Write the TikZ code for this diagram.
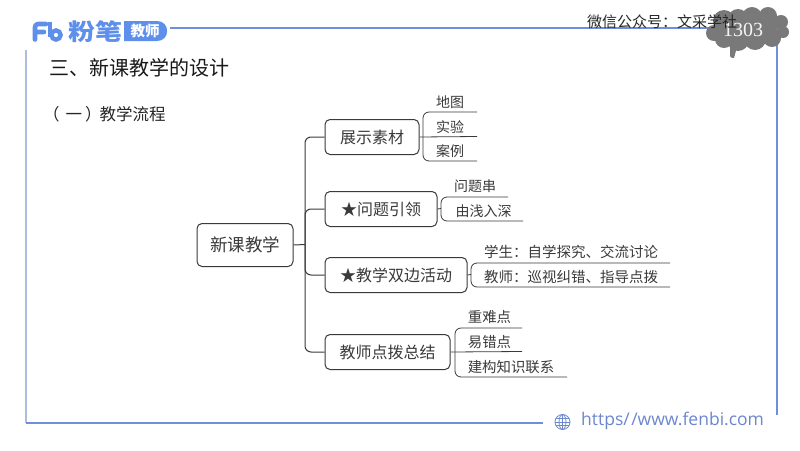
\documentclass[tikz,border=0pt]{standalone}
\usepackage{fontspec}
\setmainfont{Noto Sans CJK SC}
\newfontfamily\urlfont{Open Sans}
\newfontfamily\numfont{Liberation Serif}
\definecolor{fbblue}{HTML}{6F8FDC}
\definecolor{fbpale}{HTML}{AFBCDD}
\definecolor{fblogo}{HTML}{5E8FEA}
\definecolor{fburl}{HTML}{6D87CE}
\definecolor{ink}{HTML}{3A3A3A}
\newcommand{\fs}[1]{\fontsize{#1}{#1}\selectfont}
\tikzset{
  x=1pt,y=-1pt,
  box/.style={draw=ink,line width=1pt,rounded corners=5pt,inner sep=0pt,text=ink,anchor=north west},
  leaf/.style={inner sep=0pt,text=ink,font=\fs{14}},
  conn/.style={draw=ink,line width=1pt,rounded corners=6pt},
  frameline/.style={draw=fbblue,line width=1.6pt},
}
\begin{document}
\begin{tikzpicture}
\useasboundingbox (0,0) rectangle (800,450);
\fill[white] (0,0) rectangle (800,450);
% frame
\draw[frameline,line width=1.4pt] (170,28) -- (777,28);
\draw[frameline] (777,28) -- (777,415);
\draw[draw=fbpale,line width=1.8pt] (26,50) -- (26,423);
\draw[frameline,line width=1.4pt] (26,423) -- (543,423);
% logo
\draw[fblogo,line width=4.6pt,line cap=round,line join=round,rounded corners=3pt] (35,39.5) -- (35,24) -- (46,24) (35,32) -- (44,32);
\draw[fblogo,line width=4.4pt] (50,21.5) -- (50,37);
\draw[fblogo,line width=4.4pt] (56,35) circle (4.6);
\node[inner sep=0pt,text=fblogo,font=\fs{23}\bfseries,xscale=1.17] (logotext) at (95,31.5) {粉笔};
\fill[fblogo] (124,21) -- (157,21) .. controls (170.5,21) and (170.5,41) .. (157,41) -- (124,41) -- cycle;
\node[inner sep=0pt,text=white,font=\fs{14.5}\bfseries] (logobadge) at (145,31) {教师};
% cloud
\fill[gray!95!black] (714,33) circle (8) (724,21) circle (11) (738,19) circle (10) (752,17) circle (10) (768,16) circle (9) (781,22) circle (7) (783,32) circle (6)
 (772,38) circle (9) (755,39) circle (11) (738,40) circle (11) (724,39) circle (9) (745,29) circle (16) (765,28) circle (12);
\fill[gray!95!black] (730,47) -- (737,47) -- (734,58) to[out=180,in=-90] (730,56) -- cycle;
\node[inner sep=0pt,text=white!92!gray,font=\numfont\fs{20}] (pagenum) at (743,30) {1303};
\node[inner sep=0pt,text=black!85,font=\fs{15}] (wechat) at (662,22) {微信公众号：文采学社};
% titles
\node[inner sep=0pt,anchor=west,text=black!90,font=\fs{20}] (title) at (49.5,68) {三、新课教学的设计};
\node[inner sep=0pt,anchor=west,text=black!85,font=\fs{16.5}] (sub) at (43,114) {（\hspace{6pt}一\hspace{3pt}）\hspace{-2pt}教学流程};
% main nodes
\node[box,minimum width=96pt,minimum height=43pt,font=\fs{17.5}] (root) at (196.5,223) {新课教学};
\node[box,minimum width=94pt,minimum height=35pt,font=\fs{16}] (a) at (324.5,119) {展示素材};
\node[box,minimum width=112pt,minimum height=35pt,font=\fs{16}] (b) at (324.5,191) {★问题引领};
\node[box,minimum width=142pt,minimum height=35pt,font=\fs{16}] (c) at (324.5,257) {★教学双边活动};
\node[box,minimum width=125pt,minimum height=35pt,font=\fs{16}] (d) at (324.5,334) {教师点拨总结};
\coordinate (trunk) at (305,244.5);
\draw[conn] (root.east) -- (trunk);
\draw[conn] (trunk) |- (a.west);
\draw[conn] (trunk) |- (b.west);
\draw[conn] (trunk) |- (c.west);
\draw[conn] (trunk) |- (d.west);
% leaves a
\coordinate (ja) at (423,136.5);
\coordinate (la1) at (477,112);
\coordinate (la2) at (477,136.5);
\coordinate (la3) at (477,161);
\draw[conn,line width=.8pt] (a.east) -- (la2);
\draw[conn,line width=.8pt] (la1) -| (ja) |- (la3);
\node[leaf] (a1) at (450,102) {地图};
\node[leaf] (a2) at (450,127) {实验};
\node[leaf] (a3) at (450,151) {案例};
% leaves b
\coordinate (jb) at (441,208.5);
\coordinate (lb1) at (508,197);
\coordinate (lb2) at (523,221);
\draw[conn,line width=.8pt] (b.east) -- (jb);
\draw[conn,line width=.8pt] (lb1) -| (jb) |- (lb2);
\node[leaf] (b1) at (475,186) {问题串};
\node[leaf] (b2) at (483.5,211) {由浅入深};
% leaves c
\coordinate (jc) at (471,274.5);
\coordinate (lc1) at (670,263);
\coordinate (lc2) at (670,287);
\draw[conn,line width=.8pt] (c.east) -- (jc);
\draw[conn,line width=.8pt] (lc1) -| (jc) |- (lc2);
\node[leaf,font=\fs{14.5}] (c1) at (571,252) {学生：自学探究、交流讨论};
\node[leaf,font=\fs{14.5}] (c2) at (571,277) {教师：巡视纠错、指导点拨};
% leaves d
\coordinate (jd) at (455,351.5);
\coordinate (ld1) at (522,328);
\coordinate (ld2) at (522,351.5);
\coordinate (ld3) at (567,377);
\draw[conn,line width=.8pt] (d.east) -- (ld2);
\draw[conn,line width=.8pt] (ld1) -| (jd) |- (ld3);
\node[leaf,font=\fs{14.4}] (d1) at (489.5,317) {重难点};
\node[leaf,font=\fs{14.4}] (d2) at (489.5,342) {易错点};
\node[leaf,font=\fs{14.4}] (d3) at (511,367) {建构知识联系};
% footer
\begin{scope}[shift={(562.5,422)},draw=fburl,line width=.8pt]
\draw (0,0) circle (7.5);
\draw (0,0) ellipse (3.5 and 7.5);
\draw (-7.5,0) -- (7.5,0) (0,-7.5) -- (0,7.5) (-6.6,-3.5) -- (6.6,-3.5) (-6.6,3.5) -- (6.6,3.5);
\end{scope}
\node[inner sep=0pt,anchor=west,text=fburl,font=\urlfont\fs{17.5}] (url) at (581,421) {https/\hspace{1.5pt}/www.fenbi.com};
\end{tikzpicture}
\end{document}
